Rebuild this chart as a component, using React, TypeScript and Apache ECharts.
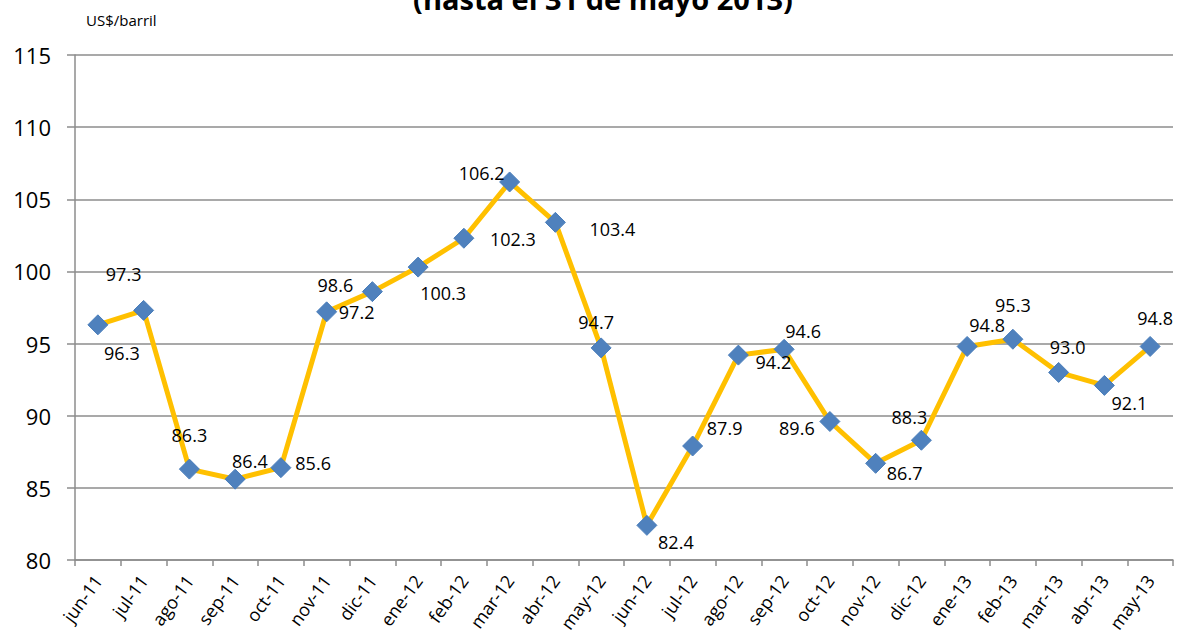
import React, { useEffect, useRef } from "react";
import * as echarts from "echarts";

const categories = [
  "jun-11", "jul-11", "ago-11", "sep-11", "oct-11", "nov-11", "dic-11", "ene-12",
  "feb-12", "mar-12", "abr-12", "may-12", "jun-12", "jul-12", "ago-12", "sep-12",
  "oct-12", "nov-12", "dic-12", "ene-13", "feb-13", "mar-13", "abr-13", "may-13",
];

const prices = [
  96.3, 97.3, 86.3, 85.6, 86.4, 97.2, 98.6, 100.3,
  102.3, 106.2, 103.4, 94.7, 82.4, 87.9, 94.2, 94.6,
  89.6, 86.7, 88.3, 94.8, 95.3, 93.0, 92.1, 94.8,
];

const yTicks = { min: 80, max: 115, interval: 5 };

const titleText = "(hasta el 31 de mayo 2013)";
const unitText = "US$/barril";

// label offsets (px) relative to each marker, as placed in the reference
const labelOffsets: [number, number][] = [
  [24, 28], [-20, -36], [0, -34], [78, -16], [-31, -7], [30, 0], [-37, -7], [25, 26],
  [49, 1], [-28, -9], [57, 7], [-5, -26], [29, 17], [32, -18], [35, 7], [19, -18],
  [-33, 7], [29, 10], [-12, -23], [20, -21], [0, -34], [9, -25], [25, 18], [5, -28],
];

const FONT = "'Open Sans', 'Noto Sans', sans-serif";

export default function App() {
  const ref = useRef<HTMLDivElement>(null);

  useEffect(() => {
    document.body.style.margin = "0";
    if (!ref.current) return;
    const chart = echarts.init(ref.current, undefined, { renderer: "svg" });
    const grey = "#8c8c8c";
    chart.setOption({
      animation: false,
      backgroundColor: "#ffffff",
      textStyle: { fontFamily: FONT },
      grid: {
        left: 75,
        right: 7,
        top: 55,
        bottom: 76,
        containLabel: false,
        outerBoundsMode: "none",
      },
      graphic: [
        {
          type: "text",
          x: 603,
          y: -2,
          style: {
            text: titleText,
            fontFamily: FONT,
            fontSize: 29,
            fontWeight: "bold",
            fill: "#000",
            align: "center",
            verticalAlign: "middle",
          },
        },
        {
          type: "text",
          x: 86,
          y: 20,
          style: {
            text: unitText,
            fontFamily: FONT,
            fontSize: 15,
            fill: "#000",
            align: "left",
            verticalAlign: "middle",
          },
        },
      ],
      xAxis: {
        type: "category",
        data: categories,
        boundaryGap: true,
        axisLine: { show: true, lineStyle: { color: grey, width: 1.5 } },
        axisTick: { show: true, inside: false, length: 6, lineStyle: { color: grey, width: 1.5 } },
        axisLabel: {
          rotate: 54,
          interval: 0,
          fontSize: 18,
          color: "#000",
          fontFamily: FONT,
          margin: 17,
        },
        splitLine: { show: false },
      },
      yAxis: {
        type: "value",
        min: yTicks.min,
        max: yTicks.max,
        interval: yTicks.interval,
        axisLine: { show: true, lineStyle: { color: grey, width: 1.5 } },
        axisTick: { show: true, inside: false, length: 8, lineStyle: { color: grey, width: 1.5 } },
        axisLabel: { fontSize: 22, color: "#000", fontFamily: FONT, margin: 24 },
        splitLine: { show: true, lineStyle: { color: grey, width: 1.5 } },
      },
      series: [
        {
          type: "line",
          data: prices.map((v, i) => ({
            value: v,
            label: { offset: labelOffsets[i] },
          })),
          lineStyle: { color: "#FFC000", width: 5 },
          itemStyle: { color: "#4F81BD", borderColor: "#4A7EBB", borderWidth: 1 },
          symbol: "diamond",
          symbolSize: 20,
          showAllSymbol: true,
          label: {
            show: true,
            position: "inside",
            fontSize: 18,
            color: "#000",
            fontFamily: FONT,
            formatter: (p: any) => Number(p.value).toFixed(1),
          },
          z: 3,
        },
      ],
    });
    return () => chart.dispose();
  }, []);

  return (
    <div
      ref={ref}
      style={{ position: "fixed", left: 0, top: 0, width: 1180, height: 636 }}
    />
  );
}
